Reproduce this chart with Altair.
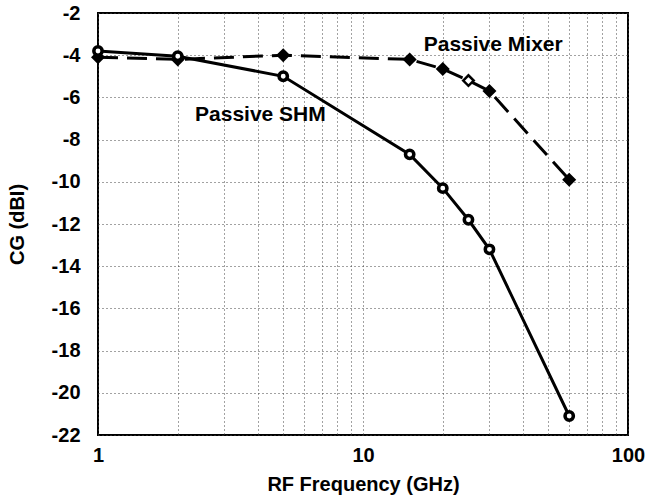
import altair as alt
import pandas as pd

freq = [1, 2, 5, 15, 20, 25, 30, 60]
shm_cg = [-3.8, -4.05, -5.0, -8.7, -10.3, -11.8, -13.2, -21.1]
mixer_cg = [-4.1, -4.2, -4.0, -4.2, -4.65, -5.2, -5.7, -9.9]
mixer_open = [False, False, False, False, False, True, False, False]

label_text = ["Passive Mixer", "Passive SHM"]
label_x = [31, 4.1]
label_y = [-3.5, -6.85]

shm = pd.DataFrame({"f": freq, "cg": shm_cg})
mix = pd.DataFrame({"f": freq, "cg": mixer_cg,
                    "fillc": ["white" if o else "black" for o in mixer_open]})
labels = pd.DataFrame({"t": label_text, "f": label_x, "cg": label_y})

grid_vals = [1, 2, 3, 4, 5, 6, 7, 8, 9, 10, 20, 30, 40, 50, 60, 70, 80, 90, 100]

FONT = "Liberation Sans"
FS = 20

xenc = alt.X("f:Q", scale=alt.Scale(type="log", domain=[1, 100]),
             axis=alt.Axis(values=grid_vals, title="RF Frequency (GHz)",
                           labelExpr="(datum.value==1||datum.value==10||datum.value==100) ? ('' + datum.value) : ''",
                           grid=True, gridDash=[1, 3], gridColor="#444", gridWidth=1,
                           ticks=False, domain=False, labelFontSize=FS, labelFontWeight="bold",
                           labelFont=FONT, labelColor="black", labelPadding=10,
                           titleFontSize=FS, titleFontWeight="bold", titleFont=FONT,
                           titleColor="black", titlePadding=9, labelFlush=False))
yenc = alt.Y("cg:Q", scale=alt.Scale(domain=[-22, -2], nice=False, zero=False),
             axis=alt.Axis(values=list(range(-22, -1, 2)), title="CG (dBI)",
                           labelExpr="'' + datum.value",
                           grid=True, gridDash=[1, 3], gridColor="#444", gridWidth=1,
                           ticks=False, domain=False, labelFontSize=FS, labelFontWeight="bold",
                           labelFont=FONT, labelColor="black", labelPadding=18,
                           titleFontSize=FS, titleFontWeight="bold", titleFont=FONT,
                           titleColor="black", titlePadding=24))

shm_line = alt.Chart(shm).mark_line(color="black", strokeWidth=3).encode(x=xenc, y=yenc)
shm_pts = alt.Chart(shm).mark_point(shape="circle", size=70, filled=False, color="black",
                                     strokeWidth=3.5, fill="white", fillOpacity=1, opacity=1).encode(x=xenc, y=yenc)
mix_line = alt.Chart(mix).mark_line(color="black", strokeWidth=3, strokeDash=[20, 9]).encode(x=xenc, y=yenc)
mix_pts = alt.Chart(mix).mark_point(shape="diamond", size=110, color="black", strokeWidth=2.5,
                                     fillOpacity=1, opacity=1).encode(
    x=xenc, y=yenc, fill=alt.Fill("fillc:N", scale=None))
txt = alt.Chart(labels).mark_text(font=FONT, fontSize=21, fontWeight="bold", color="black").encode(
    x=xenc, y=yenc, text="t:N")

chart = alt.layer(mix_line, shm_line, mix_pts, shm_pts, txt).properties(
    width=530, height=422,
    autosize=alt.AutoSizeParams(type="none"),
    padding={"left": 98, "top": 13, "right": 34, "bottom": 65},
).configure_view(stroke="black", strokeWidth=2)

chart.save("out.html", embed_options={"renderer": "svg", "actions": False})
